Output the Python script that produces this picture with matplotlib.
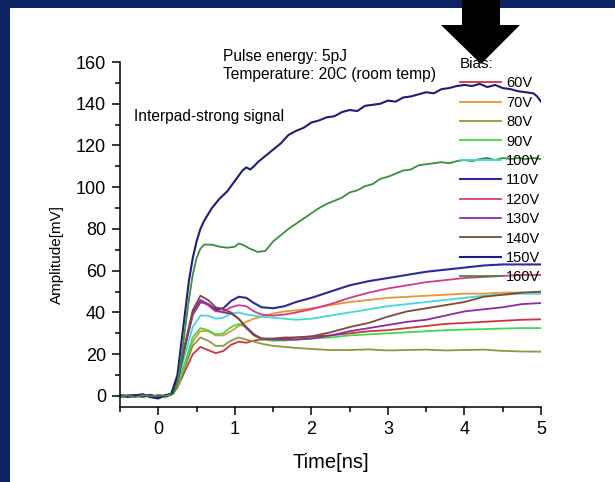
import matplotlib
matplotlib.use("Agg")
import matplotlib.pyplot as plt
from matplotlib.patches import Rectangle, Polygon
from matplotlib.ticker import MultipleLocator

plt.rcParams["font.family"] = ["Liberation Sans", "DejaVu Sans"]

# ---- data -------------------------------------------------------------
# shared time axis (ns) for the 60V .. 140V traces
t_low = [-0.5, -0.35, -0.2, -0.1, 0.0, 0.1, 0.17, 0.25, 0.35, 0.45, 0.55,
         0.65, 0.75, 0.85, 0.95, 1.05, 1.15, 1.25, 1.35, 1.5, 1.65, 1.8,
         2.0, 2.25, 2.5, 2.75, 3.0, 3.25, 3.5, 3.75, 4.0, 4.25, 4.5, 4.75, 5.0]

amp_60 = [0.3, -0.2, 0.4, -0.3, 0.2, 0.1, 0.5, 4, 12, 20, 23.5,
          22, 20.5, 21.5, 24.5, 26, 25.5, 26.5, 27, 27, 27.5, 28,
          28.5, 29, 30, 31, 31.5, 32.5, 33.5, 34.5, 35, 35.5, 36, 36.5, 36.7]
amp_70 = [-0.2, 0.3, -0.4, 0.2, -0.5, 0.2, 0.4, 5, 15, 26, 31,
          31, 29, 29, 31, 33.5, 35.5, 37, 38, 39.5, 40.5, 41,
          42, 43.5, 45, 46, 47, 47.5, 48, 48.5, 49, 49, 49.5, 49.5, 49.5]
amp_80 = [0.1, -0.3, 0.2, 0.4, -0.4, 0.3, 0.5, 4, 14, 24, 28,
          26.5, 24, 24, 26.5, 28, 27, 26, 25, 24, 23.5, 23,
          22.5, 22, 22, 22.3, 21.8, 22, 22.2, 21.8, 22, 22.2, 21.6, 21.3, 21.2]
amp_90 = [-0.3, 0.2, 0.5, -0.2, 0.1, -0.3, 0.6, 5, 16, 28, 32.5,
          31.5, 29.5, 30, 33, 34.5, 33, 29.5, 27, 26.5, 26.5, 27,
          27.5, 28, 29, 29.5, 30, 30.5, 31, 31.5, 31.8, 32, 32.3, 32.5, 32.5]
amp_100 = [0.2, -0.4, 0.3, 0.6, -0.3, 0.2, 0.7, 6, 20, 33, 38.5,
           38.5, 37, 37.5, 39.5, 40, 39, 38.5, 38, 37.5, 37, 36.5,
           37, 38.5, 40, 41.5, 43, 44, 45, 46, 47, 48, 48.5, 49, 49]
amp_110 = [-0.4, 0.3, -0.2, 0.5, -0.8, 0.2, 0.8, 7, 24, 39, 45,
           44, 41.5, 42, 45.5, 47.5, 47, 44.5, 42.5, 42, 43, 45,
           47, 50, 53, 55, 56.5, 58, 59.5, 60.5, 61.5, 62.5, 63, 63, 63]
amp_120 = [0.3, -0.3, 0.6, -0.4, 0.3, -0.2, 0.8, 7, 24, 39, 45.5,
           43.5, 40.5, 40.5, 42.5, 43.5, 43, 40.5, 39, 38.5, 39, 40,
           41.5, 44, 47, 49.5, 51.5, 53, 54.5, 55.5, 56.5, 57, 57.5, 58, 58]
amp_130 = [-0.2, 0.4, -0.5, 0.3, -0.6, 0.4, 0.9, 7, 24, 40, 46,
           44, 41, 40, 39.5, 37, 33, 29.5, 27.5, 27, 27, 27,
           27.5, 29, 31, 32.5, 34, 35.5, 36.5, 38.5, 40.5, 41.5, 42.5, 44, 44.5]
amp_140 = [0.4, -0.1, 0.3, -0.5, 0.2, -0.4, 0.9, 7, 25, 41, 48,
           46, 42.5, 41.5, 40, 37, 32.5, 29, 27.5, 27.5, 28, 28,
           28.5, 30.5, 33, 35, 38, 40.5, 42, 43.5, 45, 47.5, 48.5, 49.5, 50]

t_150 = [-0.5, -0.4, -0.3, -0.2, -0.1, 0.0, 0.1, 0.17, 0.25, 0.3, 0.35, 0.4,
         0.45, 0.5, 0.55, 0.6, 0.7, 0.8, 0.9, 1.0, 1.1, 1.15, 1.2, 1.25, 1.3,
         1.4, 1.5, 1.6, 1.7, 1.8, 1.9, 2.0, 2.1, 2.2, 2.3, 2.4, 2.5, 2.6, 2.7,
         2.8, 2.9, 3.0, 3.1, 3.2, 3.3, 3.4, 3.5, 3.6, 3.7, 3.8, 3.9, 4.0, 4.1,
         4.2, 4.3, 4.4, 4.5, 4.6, 4.7, 4.8, 4.9, 4.95, 5.0]
amp_150 = [0.2, -0.5, 0.3, 0.8, -0.6, -1.2, 0.4, 1.0, 10, 25, 40, 55,
           66, 74, 80, 84, 90, 94.5, 98, 103, 108, 109.5, 108.5, 110, 112,
           115, 118, 121, 125, 127, 128.5, 131, 132, 133.5, 134, 136, 137, 136.5, 139,
           139.5, 140, 141.5, 141, 143, 143.5, 144.5, 145.5, 145, 147, 147.5, 148.5, 149, 148.5,
           149.5, 148, 149, 147.5, 147, 146, 145.5, 145, 143.5, 141]

t_160 = [-0.5, -0.4, -0.3, -0.2, -0.1, 0.0, 0.1, 0.2, 0.25, 0.3, 0.35, 0.4,
         0.45, 0.5, 0.55, 0.6, 0.7, 0.8, 0.9, 1.0, 1.05, 1.1, 1.2, 1.3, 1.4,
         1.5, 1.6, 1.7, 1.8, 1.9, 2.0, 2.1, 2.2, 2.3, 2.4, 2.5, 2.6, 2.7, 2.8,
         2.9, 3.0, 3.1, 3.2, 3.3, 3.4, 3.5, 3.6, 3.7, 3.8, 3.9, 4.0, 4.1, 4.2,
         4.3, 4.4, 4.5, 4.6, 4.7, 4.8, 4.9, 5.0]
amp_160 = [-0.3, 0.2, -0.6, 0.4, -0.2, 0.3, 0.1, 1.0, 6, 18, 32, 46,
           58, 66, 70.5, 72.5, 72.5, 71.5, 71, 71.5, 73, 72.5, 70.5, 69, 69.5,
           74, 77, 80, 82.5, 85, 87.5, 90, 92, 93.5, 95, 97.5, 98.5, 100.5, 101.5,
           104, 105, 106.5, 108, 108.5, 110.5, 111, 111.5, 112, 111.5, 112.5, 113, 112.5, 113.5,
           114, 113, 114, 113.5, 114, 113.5, 114, 113.5]

bias_labels = ["60V", "70V", "80V", "90V", "100V", "110V",
               "120V", "130V", "140V", "150V", "160V"]
series_t = [t_low] * 9 + [t_150, t_160]
series_amp = [amp_60, amp_70, amp_80, amp_90, amp_100, amp_110,
              amp_120, amp_130, amp_140, amp_150, amp_160]
colors = ["#d0343c", "#e8962e", "#959540", "#3fd94f", "#3fd8e0", "#2b2b9c",
          "#d63a86", "#8e2aa6", "#7a4a3a", "#1d1d7a", "#3d8d3d"]

# ---- figure -------------------------------------------------------------
W, H = 615, 482
fig = plt.figure(figsize=(W / 100, H / 100), dpi=100)
fig.patch.set_facecolor("#0b2263")
fig.patches.append(Rectangle((10 / W, 0), 1 - 10 / W, 1 - 8 / H,
                             transform=fig.transFigure, facecolor="white",
                             edgecolor="none", zorder=-10))

ax = fig.add_axes([120 / W, 75 / H, (541 - 120) / W, (407 - 62) / H])
ax.patch.set_visible(False)

handles = []
for t, a, c, lab in zip(series_t, series_amp, colors, bias_labels):
    lw = 1.5 if lab in ("110V", "150V") else 1.3
    h, = ax.plot(t, a, color=c, lw=lw, label=lab)
    handles.append(h)

ax.set_xlim(-0.5, 5)
ax.set_ylim(-5.3, 160)
ax.xaxis.set_major_locator(MultipleLocator(1))
ax.xaxis.set_minor_locator(MultipleLocator(0.5))
ax.yaxis.set_major_locator(MultipleLocator(20))
ax.yaxis.set_minor_locator(MultipleLocator(10))
for s in ("top", "right"):
    ax.spines[s].set_visible(False)
for s in ("left", "bottom"):
    ax.spines[s].set_linewidth(1.1)
ax.tick_params(which="major", direction="out", length=6, width=1.1,
               labelsize=13, pad=4)
ax.tick_params(which="minor", direction="out", length=3.5, width=1.1)

ax.set_xlabel("Time[ns]", fontsize=14.5)
ax.xaxis.set_label_coords(0.5, -(462 - 407) / 345, transform=ax.transAxes)
ax.xaxis.label.set_va("center")
ax.set_ylabel("Amplitude[mV]", fontsize=11)
ax.yaxis.set_label_coords(-(120 - 57) / 421, (407 - 254) / 345,
                          transform=ax.transAxes)
ax.yaxis.label.set_va("center")

fig.text(223 / W, 1 - 57 / H, "Pulse energy: 5pJ", fontsize=11.2, va="center")
fig.text(223 / W, 1 - 75 / H, "Temperature: 20C (room temp)", fontsize=11.2,
         va="center")
fig.text(134 / W, 1 - 117 / H, "Interpad-strong signal", fontsize=11.2,
         va="center")

leg = ax.legend(handles=handles, title="Bias:", loc="upper left",
                bbox_to_anchor=(460 / W, 1 - 57 / H),
                bbox_transform=fig.transFigure, frameon=False,
                fontsize=10.5, title_fontsize=11, handlelength=2.8,
                handletextpad=0.35, labelspacing=0.37, borderpad=0,
                borderaxespad=0, alignment="left")

# heavy pointer arrow at the top edge
arrow_px = [(462, 0), (500, 0), (500, 25), (520, 25), (481, 64),
            (441, 25), (462, 25)]
fig.patches.append(Polygon([(x / W, 1 - y / H) for x, y in arrow_px],
                           closed=True, transform=fig.transFigure,
                           facecolor="black", edgecolor="none", zorder=5))

fig.savefig("out.png", dpi=100, facecolor=fig.get_facecolor())
